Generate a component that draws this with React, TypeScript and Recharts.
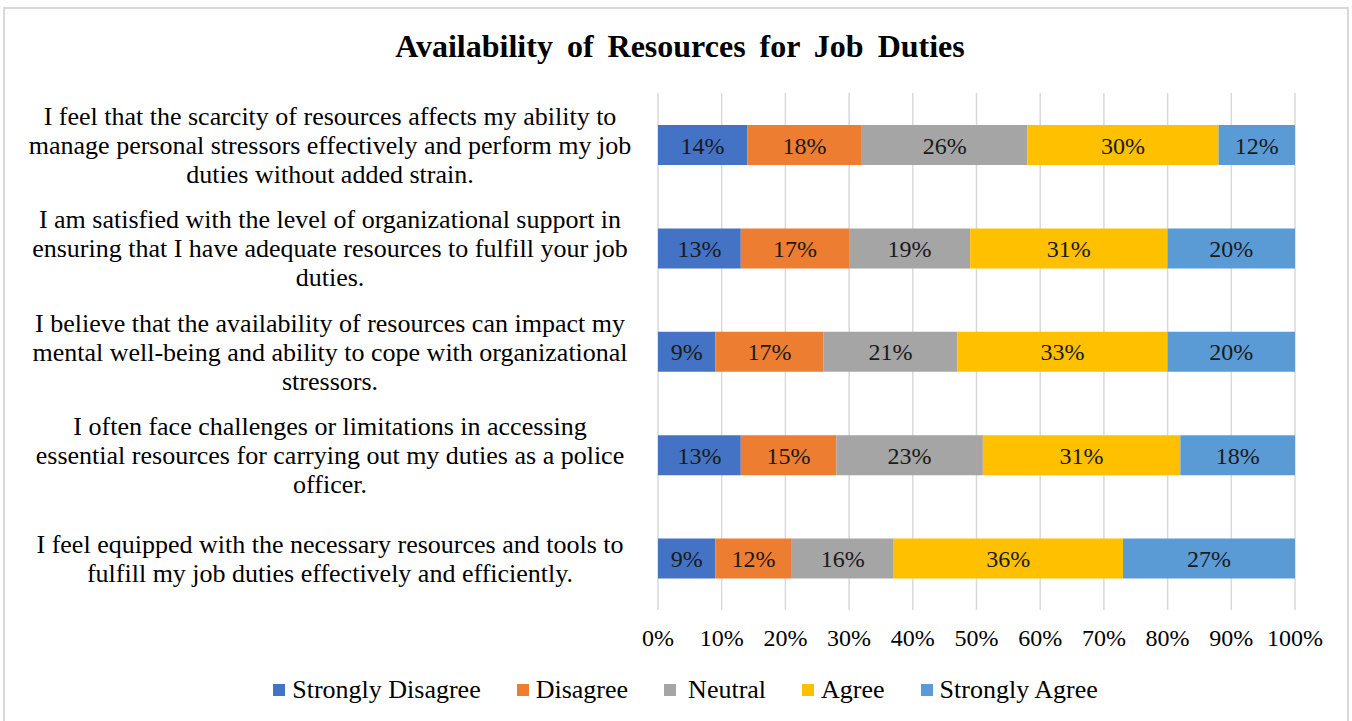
import React from 'react';
import { BarChart, Bar, XAxis, YAxis, CartesianGrid, Legend, LabelList } from 'recharts';

const FONT = "'Times New Roman', 'Liberation Serif', serif";

const categories = [
  'I feel that the scarcity of resources affects my ability to\nmanage personal stressors effectively and perform my job\nduties without added strain.',
  'I am satisfied with the level of organizational support in\nensuring that I have adequate resources to fulfill your job\nduties.',
  'I believe that the availability of resources can impact my\nmental well-being and ability to cope with organizational\nstressors.',
  'I often face challenges or limitations in accessing\nessential resources for carrying out my duties as a police\nofficer.',
  'I feel equipped with the necessary resources and tools to\nfulfill my job duties effectively and efficiently.',
];

const stronglyDisagree = [14, 13, 9, 13, 9];
const disagree = [18, 17, 17, 15, 12];
const neutral = [26, 19, 21, 23, 16];
const agree = [30, 31, 33, 31, 36];
const stronglyAgree = [12, 20, 20, 18, 27];

const xTicks = [0, 10, 20, 30, 40, 50, 60, 70, 80, 90, 100];

const seriesKeys = ['sd', 'd', 'n', 'a', 'sa'];
const seriesNames = ['Strongly Disagree', 'Disagree', 'Neutral', 'Agree', 'Strongly Agree'];
const seriesColors = ['#4472C4', '#ED7D31', '#A5A5A5', '#FFC000', '#5B9BD5'];

const data = categories.map((label, i) => ({
  label,
  sd: stronglyDisagree[i],
  d: disagree[i],
  n: neutral[i],
  a: agree[i],
  sa: stronglyAgree[i],
}));

const CategoryTick = (props: any) => {
  const { x, y, payload } = props;
  const lines = String(payload.value).split('\n');
  const lh = 29;
  const cx = x - 328;
  const startY = y - ((lines.length - 1) * lh) / 2;
  return (
    <text x={cx} y={startY} textAnchor="middle" fontSize={26} fontFamily={FONT} fill="#000">
      {lines.map((l, i) => (
        <tspan key={i} x={cx} y={startY + i * lh} dy="0.35em">
          {l}
        </tspan>
      ))}
    </text>
  );
};

const LegendContent = () => (
  <div
    style={{
      display: 'flex',
      justifyContent: 'center',
      alignItems: 'center',
      height: 40,
      fontFamily: FONT,
      fontSize: 26,
      color: '#000',
      paddingLeft: 76,
    }}
  >
    {seriesNames.map((name, i) => (
      <div key={name} style={{ display: 'flex', alignItems: 'center', marginRight: i < seriesNames.length - 1 ? 36 : 0 }}>
        <span style={{ width: 12, height: 12, background: seriesColors[i], display: 'inline-block', marginRight: name === 'Neutral' ? 12 : 7 }} />
        <span>{name}</span>
      </div>
    ))}
  </div>
);

export default function App() {
  return (
    <div style={{ position: 'absolute', left: 0, top: 0, width: 1352, height: 721, background: '#fff', overflow: 'hidden' }}>
      <div
        style={{
          position: 'absolute',
          left: 3,
          top: 7,
          width: 1346,
          height: 730,
          border: '2px solid #d9d9d9',
          boxSizing: 'border-box',
        }}
      />
      <div
        style={{
          position: 'absolute',
          left: 0,
          top: 28,
          width: 1360,
          textAlign: 'center',
          fontFamily: FONT,
          fontWeight: 'bold',
          fontSize: 32,
          color: '#000',
          wordSpacing: 6,
        }}
      >
        Availability of Resources for Job Duties
      </div>
      <div style={{ position: 'absolute', left: 0, top: 0 }}>
        <BarChart
          width={1352}
          height={721}
          data={data}
          layout="vertical"
          margin={{ top: 93, right: 57, bottom: 11, left: 0 }}
          barSize={40}
        >
          <CartesianGrid horizontal={false} stroke="#d9d9d9" strokeWidth={1.5} />
          <XAxis
            type="number"
            domain={[0, 100]}
            ticks={xTicks}
            tickFormatter={(v: number) => `${v}%`}
            axisLine={false}
            tickLine={false}
            tickSize={0}
            tickMargin={19}
            height={60}
            interval={0}
            tick={{ fontSize: 24, fontFamily: FONT, fill: '#000' }}
          />
          <YAxis
            type="category"
            dataKey="label"
            width={658}
            axisLine={false}
            tickLine={false}
            tickSize={0}
            tickMargin={0}
            interval={0}
            tick={<CategoryTick />}
          />
          <Legend verticalAlign="bottom" height={40} content={<LegendContent />} />
          {seriesKeys.map((k, i) => (
            <Bar key={k} dataKey={k} name={seriesNames[i]} stackId="s" fill={seriesColors[i]} isAnimationActive={false}>
              <LabelList
                dataKey={k}
                position="center"
                formatter={(v: any) => `${v}%`}
                style={{ fontSize: 24, fontFamily: FONT, fill: '#1a1a1a' }}
              />
            </Bar>
          ))}
        </BarChart>
      </div>
    </div>
  );
}
